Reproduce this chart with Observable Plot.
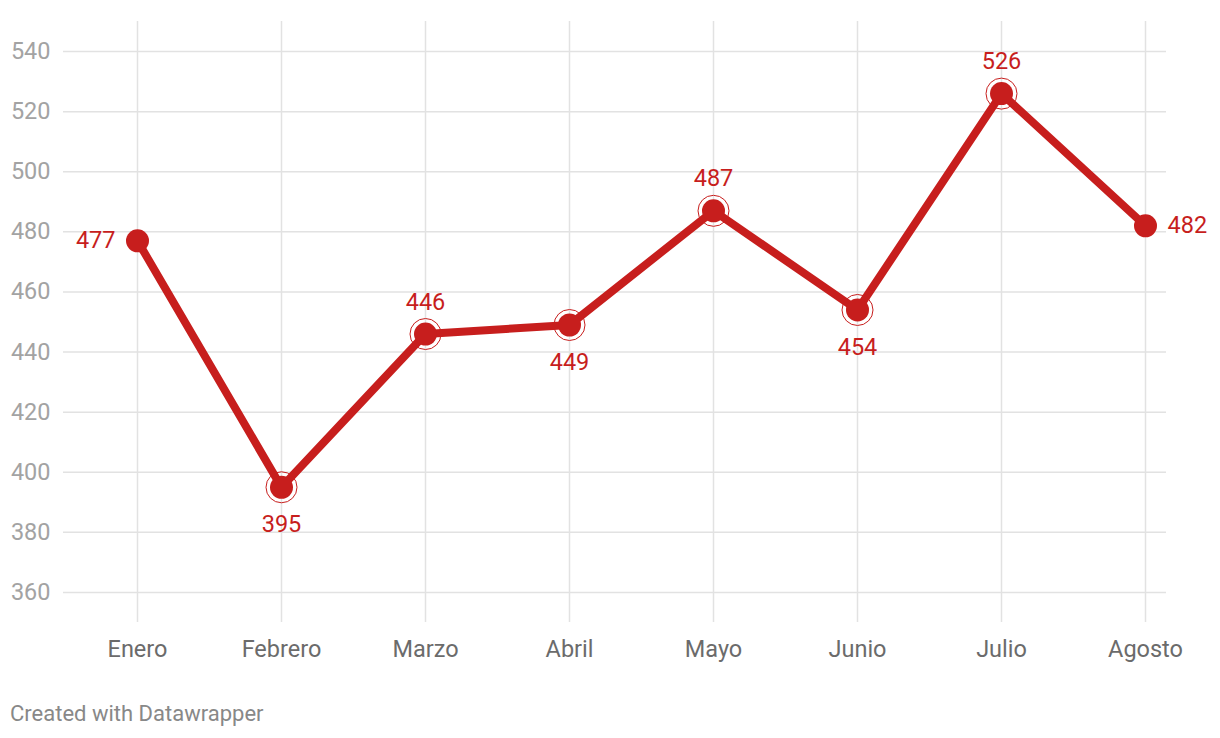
<!DOCTYPE html>
<html>
<head>
<meta charset="utf-8">
<script src="https://cdn.jsdelivr.net/npm/d3@7"></script>
<script src="https://cdn.jsdelivr.net/npm/@observablehq/plot@0.6"></script>
<style>
  body { margin: 0; background: #fff; font-family: Roboto, sans-serif; }
  #chart svg { display: block; }
  #footer { position: absolute; left: 10px; top: 701px; font-size: 22px; color: #888; font-family: Roboto, sans-serif; }
</style>
</head>
<body>
<div id="chart"></div>
<div id="footer">Created with Datawrapper</div>
<script>
const months = ["Enero", "Febrero", "Marzo", "Abril", "Mayo", "Junio", "Julio", "Agosto"];
const values = [477, 395, 446, 449, 487, 454, 526, 482];
const labelPlacement = ["left", "below", "above", "below", "above", "below", "above", "right"];
const ringed = [false, true, true, true, true, true, true, false];
const yTicks = [360, 380, 400, 420, 440, 460, 480, 500, 520, 540];

const data = months.map((m, i) => ({month: m, value: values[i], place: labelPlacement[i], ring: ringed[i]}));
const red = "#c71e1d";

const lbl = (place, opts) => Plot.text(data.filter(d => d.place === place), {
  x: "month", y: "value", text: d => String(d.value), fill: red, fontSize: 23.5, ...opts
});

const chart = Plot.plot({
  width: 1220,
  height: 690,
  marginLeft: 63,
  marginRight: 54,
  marginTop: 21,
  marginBottom: 68,
  insetLeft: 72,
  insetRight: 20,
  style: {fontFamily: "Roboto, sans-serif", background: "#fff"},
  x: {type: "point", domain: months, padding: 0},
  y: {domain: [350, 550]},
  marks: [
    Plot.ruleY(yTicks, {stroke: "#e2e2e2", strokeWidth: 1.5}),
    Plot.ruleX(months, {stroke: "#e2e2e2", strokeWidth: 1.5}),
    Plot.axisY({ticks: yTicks, tickSize: 0, tickPadding: 13, fontSize: 23.5, fill: "#a3a3a3", label: null}),
    Plot.axisX({tickSize: 0, tickPadding: 18, fontSize: 23.5, fill: "#6b6b6b", label: null}),
    Plot.line(data, {x: "month", y: "value", stroke: red, strokeWidth: 8, strokeLinejoin: "round"}),
    Plot.dot(data.filter(d => d.ring), {x: "month", y: "value", r: 15.5, stroke: red, strokeWidth: 1, fill: "none"}),
    Plot.dot(data, {x: "month", y: "value", r: 11.5, fill: red}),
    lbl("left", {textAnchor: "end", dx: -22}),
    lbl("right", {textAnchor: "start", dx: 22}),
    lbl("above", {dy: -32}),
    lbl("below", {dy: 37})
  ]
});
document.getElementById("chart").appendChild(chart);
</script>
</body>
</html>
